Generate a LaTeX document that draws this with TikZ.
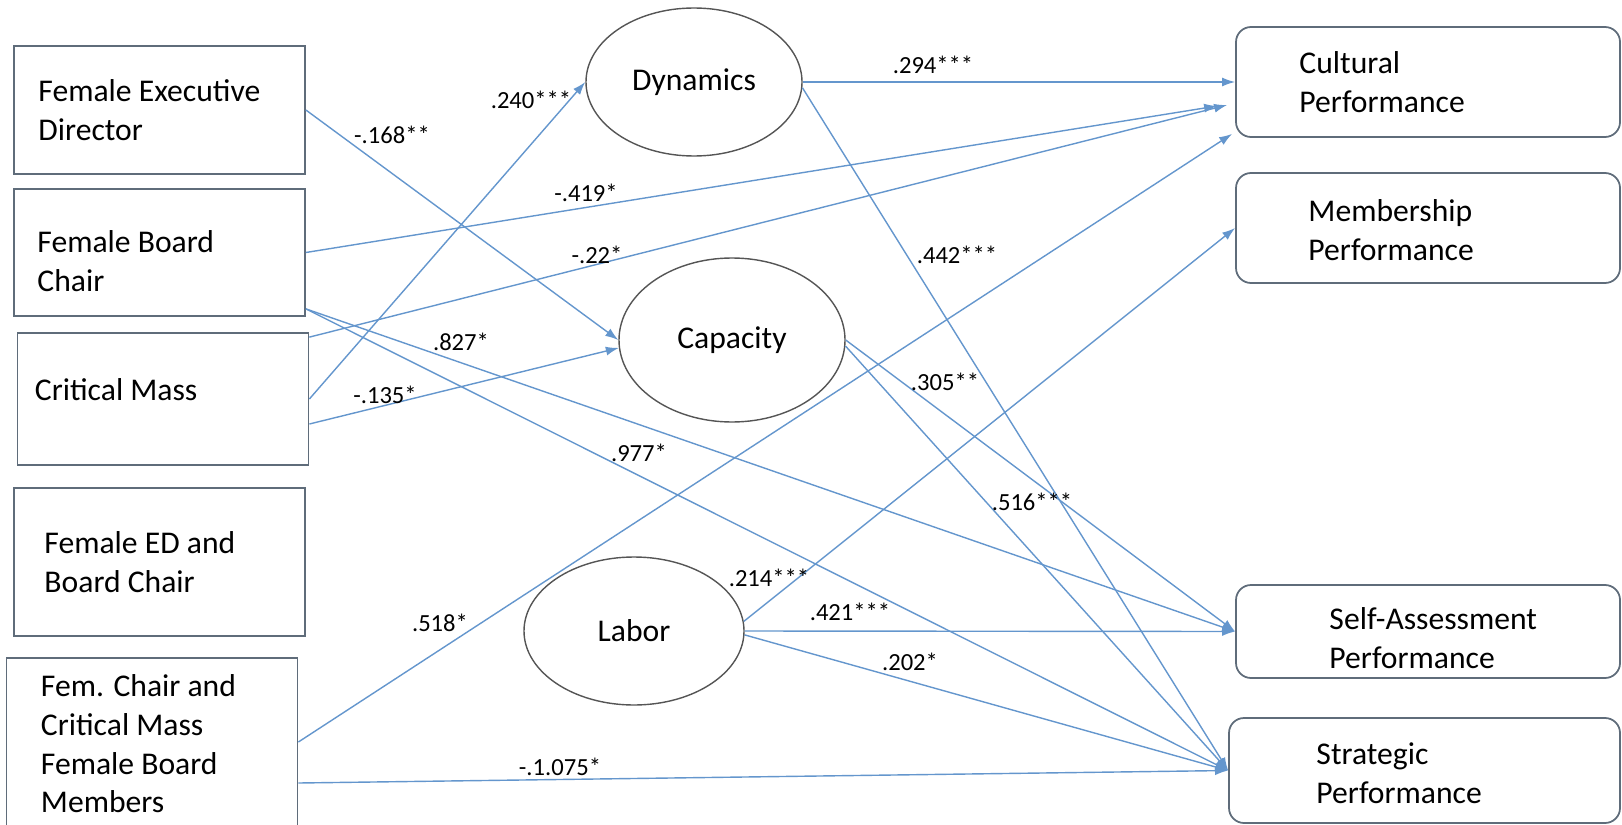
\documentclass[tikz,border=0pt]{standalone}
\usepackage{fontspec}
\setmainfont{Carlito}
\usetikzlibrary{shapes.geometric,arrows.meta}
\definecolor{pathblue}{RGB}{100,150,205}
\definecolor{boxgray}{RGB}{95,108,122}
\definecolor{ovalgray}{RGB}{85,85,85}
\begin{document}
\begin{tikzpicture}[x=0.2cm,y=0.2cm]
		\tikzstyle{every node}+=[inner sep=0pt]
		\tikzstyle{inbox}=[draw=boxgray, line width=1pt, minimum width=5.82cm]
		\tikzstyle{outbox}=[draw=boxgray, line width=1pt, rounded corners=0.3cm, minimum width=7.68cm]
		\tikzstyle{latent}=[draw=ovalgray, ellipse, line width=0.8pt, font=\fontsize{18}{22}\selectfont]
		\tikzstyle{boxtext}=[anchor=west, align=left, font=\fontsize{18}{22}\selectfont]
		\tikzstyle{coef}=[font=\fontsize{14}{16}\selectfont]
		\tikzstyle{effect}=[draw=pathblue, line width=0.8pt, -{Latex[length=2.6mm,width=1.8mm]}]
		\useasboundingbox (0,0) rectangle (162.2,-82.4);
		\clip (0,0) rectangle (162.2,-82.4);
		\node [inbox, minimum height=2.56cm] (fed) at (15.95,-11.0) {};
		\node [inbox, minimum height=2.54cm] (fbc) at (15.95,-25.25) {};
		\node [inbox, minimum height=2.64cm] (cm) at (16.3,-39.9) {};
		\node [inbox, minimum height=2.96cm] (fedbc) at (15.95,-56.2) {};
		\node [inbox, minimum height=3.36cm] (fcm) at (15.2,-74.2) {};
		\node [boxtext] (fedtxt) at ([xshift=0.5cm]fed.west) {Female Executive\\Director};
		\node [boxtext] (fbctxt) at ([xshift=0.48cm,yshift=-0.17cm]fbc.west) {Female Board\\Chair};
		\node [boxtext] (cmtxt) at ([xshift=0.36cm,yshift=0.18cm]cm.west) {Critical Mass};
		\node [boxtext] (fedbctxt) at ([xshift=0.62cm]fedbc.west) {Female ED and\\Board Chair};
		\node [boxtext] (fcmtxt) at ([xshift=0.7cm,yshift=-0.04cm]fcm.west) {Fem. Chair and\\Critical Mass\\Female Board\\Members};
		\node [outbox, minimum height=2.2cm] (cult) at (142.8,-8.2) {};
		\node [outbox, minimum height=2.2cm] (memb) at (142.8,-22.8) {};
		\node [outbox, minimum height=1.86cm] (self) at (142.8,-63.15) {};
		\node [outbox, minimum width=7.82cm, minimum height=2.1cm] (strat) at (142.45,-77.05) {};
		\node [boxtext] (culttxt) at ([xshift=1.28cm]cult.west) {Cultural\\Performance};
		\node [boxtext] (membtxt) at ([xshift=1.46cm,yshift=-0.04cm]memb.west) {Membership\\Performance};
		\node [boxtext] (selftxt) at ([xshift=1.88cm,yshift=-0.13cm]self.west) {Self-Assessment\\Performance};
		\node [boxtext] (strattxt) at ([xshift=1.76cm,yshift=-0.06cm]strat.west) {Strategic\\Performance};
		\node [latent, minimum width=4.32cm, minimum height=2.96cm] (dyn) at (69.4,-8.2) {Dynamics};
		\node [latent, minimum width=4.52cm, minimum height=3.28cm] (cap) at (73.2,-34.0) {Capacity};
		\node [latent, minimum width=4.4cm, minimum height=2.96cm] (lab) at (63.4,-63.1) {Labor};
		\draw [effect] (fed.east) -- (cap.west);
		\draw [effect] (cm.east) -- (dyn.west);
		\draw [effect] (fbc.east) -- ([xshift=-0.36cm,yshift=-0.48cm]cult.west);
		\draw [effect] ([yshift=-0.1cm]cm.north east) -- ([xshift=-0.16cm,yshift=-0.46cm]cult.west);
		\draw [effect] ([yshift=-0.5cm]cm.east) -- (cap.184);
		\draw [effect] ([yshift=0.16cm]fbc.south east) -- (self.west);
		\draw [effect] ([yshift=0.16cm]fbc.south east) -- (strat.west);
		\draw [effect] (fcm.east) -- ([xshift=-0.06cm,yshift=0.08cm]cult.south west);
		\draw [effect] ([yshift=-0.82cm]fcm.east) -- (strat.west);
		\draw [effect] (dyn.east) -- (cult.west);
		\draw [effect] (dyn.-3) -- (strat.west);
		\draw [effect] (cap.east) -- (self.west);
		\draw [effect] (cap.-3) -- (strat.west);
		\draw [effect] (lab.5) -- (memb.west);
		\draw [effect] (lab.east) -- (self.west);
		\draw [effect] (lab.-2) -- (strat.west);
		\node [coef] (c168) at (39.2,-13.5) {-.168**};
		\node [coef] (c240) at (53.1,-10.0) {.240***};
		\node [coef] (c419) at (58.6,-19.3) {-.419*};
		\node [coef] (c22) at (59.7,-25.5) {-.22*};
		\node [coef] (c827) at (46.1,-34.2) {.827*};
		\node [coef] (c135) at (38.5,-39.5) {-.135*};
		\node [coef] (c518) at (44.0,-62.3) {.518*};
		\node [coef] (c1075) at (56.0,-76.7) {-.1.075*};
		\node [coef] (c294) at (93.3,-6.5) {.294***};
		\node [coef] (c442) at (95.7,-25.5) {.442***};
		\node [coef] (c305) at (94.5,-38.2) {.305**};
		\node [coef] (c977) at (63.9,-45.3) {.977*};
		\node [coef] (c516) at (103.2,-50.2) {.516***};
		\node [coef] (c214) at (76.9,-57.8) {.214***};
		\node [coef] (c421) at (85.0,-61.2) {.421***};
		\node [coef] (c202) at (91.0,-66.2) {.202*};
		\end{tikzpicture}
\end{document}
